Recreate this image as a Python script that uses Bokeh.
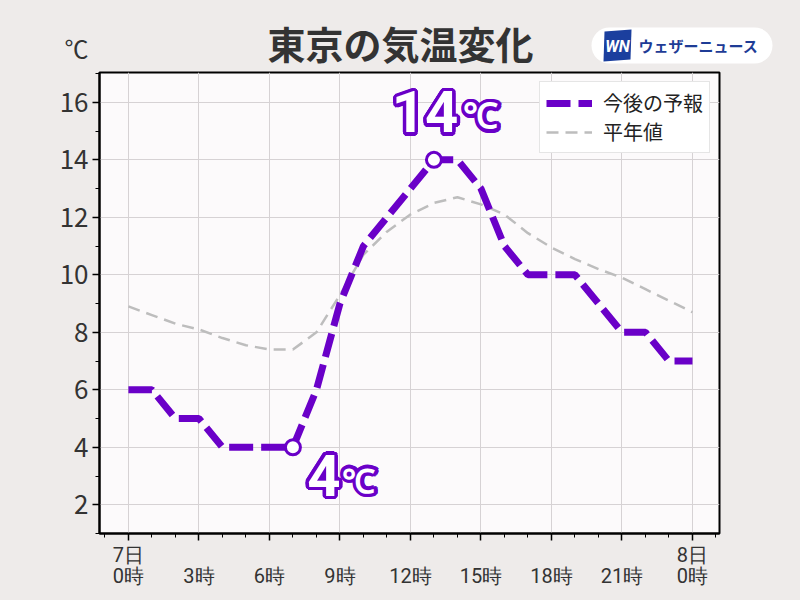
import math
from bokeh.plotting import figure
from bokeh.models import FixedTicker, Legend, LegendItem
from bokeh.core.properties import value
from bokeh.embed import file_html
from bokeh.resources import INLINE

# ---------------- data ----------------
hours = list(range(25))
forecast = [6, 6, 5, 5, 4, 4, 4, 4, 6, 9, 11, 12, 13, 14, 14, 13, 11, 10, 10, 10, 9, 8, 8, 7, 7]
normal = [8.9, 8.6, 8.3, 8.1, 7.8, 7.55, 7.4, 7.4, 8.0, 9.3, 10.7, 11.5, 12.1, 12.5, 12.7,
          12.45, 12.1, 11.45, 10.95, 10.55, 10.2, 9.9, 9.5, 9.1, 8.7]
x_ticks = [0, 3, 6, 9, 12, 15, 18, 21, 24]
x_tick_labels = ["7日\n0時", " \n3時", " \n6時", " \n9時", " \n12時", " \n15時", " \n18時", " \n21時", "8日\n0時"]
y_ticks = [2, 4, 6, 8, 10, 12, 14, 16]
legend_labels = ["今後の予報", "平年値"]
title_text = "東京の気温変化"
unit_text = "℃"
brand_text = "ウェザーニュース"
low_hour = 7
high_hour = 13

# ---------------- style ----------------
JP = "Noto Sans CJK JP"
BG = "#eeebea"
PLOT_BG = "#fcfafb"
PURPLE = "#6a00c8"
GRAY = "#bdbdbd"
GRID = "#d6d2d4"
TXT = "#333333"

# ---------------- header (pixel-like ranges, separate root) ----------------
h = figure(width=800, height=70, x_range=(0, 800), y_range=(0, 70),
           x_axis_type=None, y_axis_type=None,
           output_backend="svg", toolbar_location=None, min_border=0,
           border_fill_color=BG, background_fill_color=BG, outline_line_color=None)
h.grid.visible = False

h.text(x=[400], y=[28.5], text=[title_text], text_font=value(JP), text_font_style="bold",
       text_font_size="38px", text_color=TXT, text_align="center", text_baseline="middle")
h.text(x=[76], y=[23], text=[unit_text], text_font=value(JP),
       text_font_size="24px", text_color=TXT, text_align="center", text_baseline="middle")
# logo pill
h.line(x=[609, 754], y=[25, 25], line_width=36, line_cap="round", line_color="white")
h.patch(x=[604, 631, 630, 603], y=[39, 41, 11, 9], fill_color="#1b3f9e", line_color=None)
h.text(x=[617], y=[24], text=["WN"], text_font=value("Roboto"), text_font_style="bold italic",
       text_font_size="16px", text_color="white", text_align="center", text_baseline="middle")
h.text(x=[698], y=[25], text=[brand_text], text_font=value(JP), text_font_style="bold",
       text_font_size="15px", text_color="#1e3c96", text_align="center", text_baseline="middle")

# ---------------- main chart ----------------
p = figure(width=800, height=530, x_range=(-1.23, 25.15), y_range=(1.0, 17.04),
           output_backend="svg", toolbar_location=None,
           min_border_left=99, min_border_right=81, min_border_top=2, min_border_bottom=67,
           background_fill_color=PLOT_BG, border_fill_color=BG,
           outline_line_color="black", outline_line_width=2)

p.xaxis.ticker = FixedTicker(ticks=x_ticks, minor_ticks=list(range(-1, 26)))
p.xaxis.major_label_overrides = {t: l for t, l in zip(x_ticks, x_tick_labels)}
p.yaxis.ticker = FixedTicker(ticks=y_ticks, minor_ticks=[1, 3, 5, 7, 9, 11, 13, 15, 17])

for ax in (p.xaxis[0], p.yaxis[0]):
    ax.axis_line_color = "black"
    ax.axis_line_width = 2
    ax.major_tick_line_color = "black"
    ax.minor_tick_line_color = "black"
    ax.major_tick_line_width = 1.5
    ax.major_tick_in = 0
    ax.major_tick_out = 7
    ax.minor_tick_in = 0
    ax.minor_tick_out = 4
    ax.major_label_text_color = TXT

p.xaxis.major_label_text_font = "Roboto"
p.xaxis.major_label_text_font_size = "20px"
p.xaxis.major_label_text_line_height = 0.9
p.xaxis.major_label_standoff = 2
p.yaxis.major_label_text_font = JP
p.yaxis.major_label_text_font_size = "26px"
p.yaxis.major_label_standoff = 4

p.xgrid.grid_line_color = GRID
p.ygrid.grid_line_color = GRID

r_norm = p.line(hours, normal, line_color=GRAY, line_width=2.5, line_dash="12 7")
r_fc = p.line(hours, forecast, line_color=PURPLE, line_width=7, line_dash="24 8")

p.scatter([low_hour, high_hour], [forecast[low_hour], forecast[high_hour]], size=15,
          fill_color="white", line_color=PURPLE, line_width=3)

# annotations: white text with a thick purple outline (ring of purple copies)
ring = [(3.5 * math.cos(k * math.pi / 8), 3.5 * math.sin(k * math.pi / 8)) for k in range(16)]


def outlined(xv, yv, txt, dx, dy, size):
    n = len(ring)
    common = dict(text_font=value("Roboto"), text_font_style="bold", text_font_size=size,
                  text_align="center", text_baseline="middle")
    p.text(x=[xv] * n, y=[yv] * n, text=[txt] * n,
           x_offset=[dx + ox for ox, oy in ring], y_offset=[dy + oy for ox, oy in ring],
           text_color=PURPLE, **common)
    p.text(x=[xv], y=[yv], text=[txt], x_offset=dx, y_offset=dy, text_color="white", **common)


outlined(high_hour, forecast[high_hour], str(forecast[high_hour]), -9, -48, "58px")
outlined(high_hour, forecast[high_hour], "℃", 47, -43, "35px")
outlined(low_hour, forecast[low_hour], str(forecast[low_hour]), 31, 28, "58px")
outlined(low_hour, forecast[low_hour], "℃", 66, 34, "33px")

legend = Legend(items=[LegendItem(label=legend_labels[0], renderers=[r_fc]),
                       LegendItem(label=legend_labels[1], renderers=[r_norm])],
                location="top_right", margin=9, padding=6, spacing=0,
                glyph_width=46, glyph_height=22, label_height=22, label_standoff=11,
                label_text_font="Roboto, 'Noto Sans CJK JP'", label_text_font_size="20px",
                label_text_line_height=0.8,
                label_text_color="#222222",
                border_line_color="#cccccc", background_fill_color="white", background_fill_alpha=1)
p.add_layout(legend)

html = file_html([h, p], INLINE)
html = html.replace("</head>", "<style>html, body { background: %s; }</style></head>" % BG, 1)
open("out.html", "w").write(html)
